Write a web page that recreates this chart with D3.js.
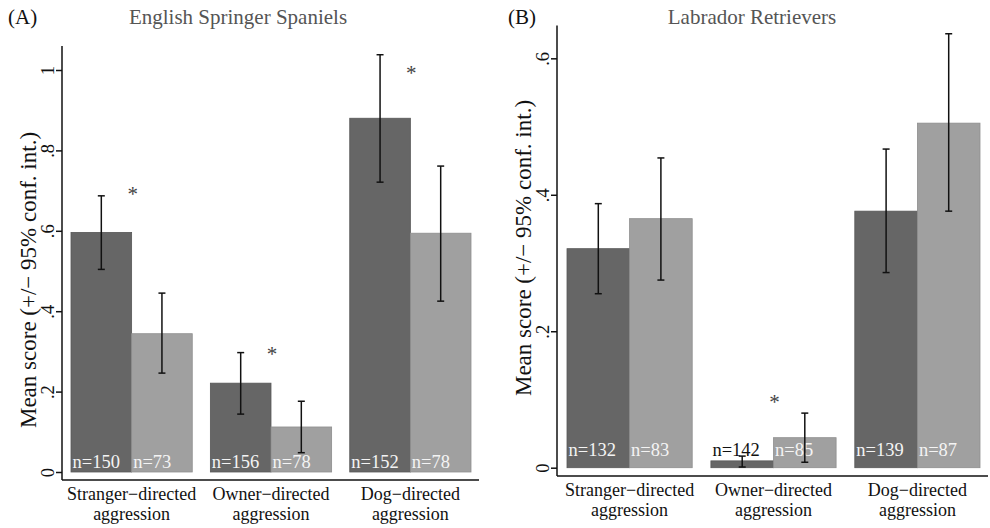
<!DOCTYPE html>
<html>
<head>
<meta charset="utf-8">
<script src="https://cdn.jsdelivr.net/npm/d3@7"></script>
<style>
  body { margin: 0; background: #fff; }
  svg { display: block; }
  text { font-family: "Liberation Serif", "Times New Roman", serif; }
</style>
</head>
<body>
<div id="chart"></div>
<script>
// categories (two text lines each)
const catLine1 = ["Stranger\u2212directed", "Owner\u2212directed", "Dog\u2212directed"];
const catLine2 = ["aggression", "aggression", "aggression"];
const series = ["dark", "light"];

// (A) English Springer Spaniels
const essMeanDark  = [0.596, 0.221, 0.880];
const essMeanLight = [0.344, 0.112, 0.594];
const essLoDark    = [0.504, 0.144, 0.721];
const essLoLight   = [0.246, 0.048, 0.425];
const essHiDark    = [0.687, 0.297, 1.038];
const essHiLight   = [0.445, 0.176, 0.761];
const essNDark     = [150, 156, 152];
const essNLight    = [73, 78, 78];
const essStar      = [0.70, 0.30, 1.00];
const essTicks     = [0, 0.2, 0.4, 0.6, 0.8, 1];

// (B) Labrador Retrievers
const labMeanDark  = [0.321, 0.010, 0.376];
const labMeanLight = [0.365, 0.044, 0.505];
const labLoDark    = [0.255, 0.001, 0.286];
const labLoLight   = [0.275, 0.008, 0.376];
const labHiDark    = [0.387, 0.017, 0.467];
const labHiLight   = [0.454, 0.080, 0.636];
const labNDark     = [132, 142, 139];
const labNLight    = [83, 85, 87];
const labStar      = [null, 0.10, null];
const labTicks     = [0, 0.2, 0.4, 0.6];

const W = 990, H = 528;
const font = "'Liberation Serif', 'Times New Roman', serif";
const fill = {dark: "#666666", light: "#a0a0a0"};
const edge = {dark: "#575757", light: "#8e8e8e"};

const svg = d3.select("#chart").append("svg")
    .attr("width", W).attr("height", H)
    .style("font-family", font);

function rows(mD, mL, loD, loL, hiD, hiL, nD, nL) {
  const out = [];
  catLine1.forEach((c, i) => {
    out.push({cat: c, s: "dark",  mean: mD[i], lo: loD[i], hi: hiD[i], n: nD[i]});
    out.push({cat: c, s: "light", mean: mL[i], lo: loL[i], hi: hiL[i], n: nL[i]});
  });
  return out;
}

const panels = [
  {tag: "(A)", tagX: 8, title: "English Springer Spaniels", titleX: 238,
   axisX: 62, xAxisY: 480, y0: 472, perUnit: 402, yMax: 1.06,
   bandL: 71, bandR: 471, nOff: 4.5, yTitleX: 36, yTitleY: 280,
   ticks: essTicks, star: essStar,
   data: rows(essMeanDark, essMeanLight, essLoDark, essLoLight, essHiDark, essHiLight, essNDark, essNLight)},
  {tag: "(B)", tagX: 508, title: "Labrador Retrievers", titleX: 752,
   axisX: 557, xAxisY: 476, y0: 467.7, perUnit: 682.3, yMax: 0.648,
   bandL: 567, bandR: 980, nOff: 11.5, yTitleX: 531, yTitleY: 248,
   ticks: labTicks, star: labStar,
   data: rows(labMeanDark, labMeanLight, labLoDark, labLoLight, labHiDark, labHiLight, labNDark, labNLight)}
];

const fmt = v => v === 0 ? "0" : (v === 1 ? "1" : d3.format(".1f")(v).replace(/^0/, ""));

panels.forEach(p => {
  const g = svg.append("g");
  const y = d3.scaleLinear().domain([0, p.yMax]).range([p.y0, p.y0 - p.yMax * p.perUnit]);
  const x = d3.scaleBand().domain(catLine1).range([p.bandL, p.bandR]).paddingInner(0.13).paddingOuter(0);
  const xs = d3.scaleBand().domain(series).range([0, x.bandwidth()]);

  // tag + title
  g.append("text").attr("x", p.tagX).attr("y", 24)
    .style("font-size", "21px").attr("fill", "#111").text(p.tag);
  g.append("text").attr("x", p.titleX).attr("y", 24).attr("text-anchor", "middle")
    .style("font-size", "21px").attr("fill", "#555").text(p.title);

  // bars
  g.selectAll("rect.bar").data(p.data).join("rect")
    .attr("class", "bar")
    .attr("x", d => x(d.cat) + xs(d.s))
    .attr("y", d => y(d.mean))
    .attr("width", xs.bandwidth())
    .attr("height", d => y(0) - y(d.mean))
    .attr("fill", d => fill[d.s])
    .attr("stroke", d => edge[d.s])
    .attr("stroke-width", 0.8);

  // n labels
  g.selectAll("text.n").data(p.data).join("text")
    .attr("class", "n")
    .attr("x", d => x(d.cat) + xs(d.s) + 1.5)
    .attr("y", y(0) - p.nOff)
    .style("font-size", "18.5px")
    .attr("fill", d => (y(0) - y(d.mean)) > 22 ? "#f4f4f4" : "#111")
    .text(d => "n=" + d.n);

  // error bars
  const eb = g.selectAll("g.eb").data(p.data).join("g").attr("class", "eb")
    .attr("transform", d => `translate(${x(d.cat) + xs(d.s) + xs.bandwidth() / 2},0)`)
    .attr("stroke", "#111").attr("stroke-width", 1.5);
  eb.append("line").attr("y1", d => y(d.lo)).attr("y2", d => y(d.hi));
  eb.append("line").attr("x1", -3.5).attr("x2", 3.5).attr("y1", d => y(d.hi)).attr("y2", d => y(d.hi));
  eb.append("line").attr("x1", -3.5).attr("x2", 3.5).attr("y1", d => y(d.lo)).attr("y2", d => y(d.lo));

  // asterisks
  g.selectAll("text.star").data(catLine1.map((c, i) => ({cat: c, v: p.star[i]})).filter(d => d.v != null))
    .join("text").attr("class", "star")
    .attr("x", d => x(d.cat) + x.bandwidth() / 2 + 1)
    .attr("y", d => y(d.v) + 10)
    .attr("text-anchor", "middle")
    .style("font-size", "21px").attr("fill", "#444")
    .text("*");

  // y axis
  const ya = g.append("g").attr("transform", `translate(${p.axisX},0)`)
    .call(d3.axisLeft(y).tickValues(p.ticks).tickFormat(fmt).tickSize(6).tickSizeOuter(0));
  ya.select(".domain").remove();
  ya.selectAll(".tick line").attr("stroke", "#111").attr("stroke-width", 1.5);
  ya.selectAll(".tick text")
    .attr("transform", "rotate(-90)")
    .attr("x", 0).attr("y", -8).attr("dy", 0)
    .attr("text-anchor", "middle")
    .attr("fill", "#111")
    .style("font-family", font).style("font-size", "18.5px");
  g.append("line")
    .attr("x1", p.axisX).attr("x2", p.axisX)
    .attr("y1", y(p.yMax)).attr("y2", p.xAxisY)
    .attr("stroke", "#111").attr("stroke-width", 1.5);

  // x axis line
  g.append("line")
    .attr("x1", p.axisX).attr("x2", p.bandR + 8)
    .attr("y1", p.xAxisY).attr("y2", p.xAxisY)
    .attr("stroke", "#111").attr("stroke-width", 1.5);

  // category labels
  const cl = g.selectAll("text.cat").data(catLine1).join("text").attr("class", "cat")
    .attr("text-anchor", "middle").style("font-size", "18px").attr("fill", "#111");
  cl.append("tspan").attr("x", d => x(d) + x.bandwidth() / 2).attr("y", p.xAxisY + 19.5).text(d => d);
  cl.append("tspan").attr("x", d => x(d) + x.bandwidth() / 2).attr("y", p.xAxisY + 39.5).text((d, i) => catLine2[i]);

  // y title
  g.append("text")
    .attr("transform", `translate(${p.yTitleX},${p.yTitleY}) rotate(-90)`)
    .attr("text-anchor", "middle")
    .style("font-size", "23px").attr("fill", "#111")
    .text("Mean score (+/\u2212 95% conf. int.)");
});
</script>
</body>
</html>
